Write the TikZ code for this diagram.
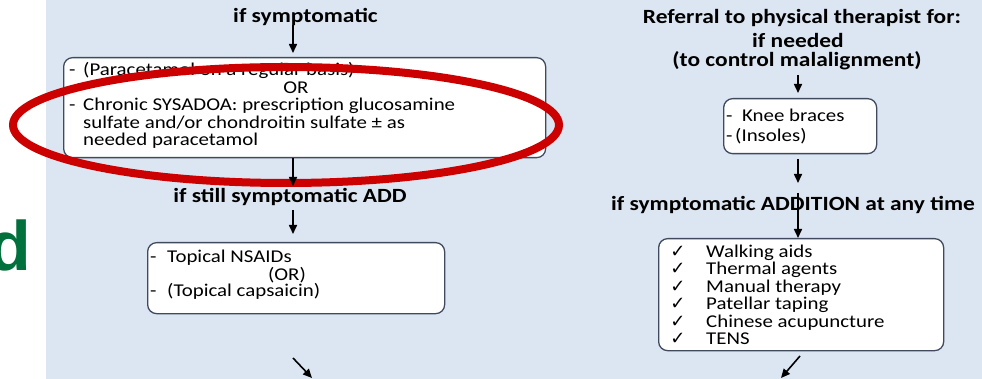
\documentclass[tikz,border=0pt]{standalone}
\usepackage{fontspec}
\setmainfont{Carlito}[FakeStretch=1.16]
\newfontfamily\checkfont{DejaVu Sans}
\newfontfamily\greenfont{Liberation Sans}
\usetikzlibrary{arrows.meta}
\definecolor{bgblue}{RGB}{220,230,242}
\definecolor{boxline}{RGB}{64,74,94}
\definecolor{ovalred}{RGB}{204,0,0}
\definecolor{dgreen}{RGB}{0,112,60}
\tikzset{
 box/.style={draw=boxline, line width=1.3pt, fill=white, rounded corners=9pt, inner sep=0pt, anchor=north west},
 txt/.style={anchor=base west, inner sep=0pt, font=\fontsize{18}{18}\selectfont},
 ctxt/.style={anchor=base, inner sep=0pt, font=\fontsize{18}{18}\selectfont},
 chk/.style={anchor=base, inner sep=0pt, font=\checkfont\fontsize{18}{18}\selectfont},
 lbl/.style={anchor=base, inner sep=0pt, font=\fontsize{20.2}{21}\selectfont\bfseries},
 arr/.style={line width=1.6pt, -{Triangle[width=8pt,length=9pt]}},
}
\begin{document}
\begin{tikzpicture}[x=1pt,y=-1pt]
\useasboundingbox (0,0) rectangle (982,379);
\fill[white] (0,0) rectangle (982,379);
\fill[bgblue] (46,0) rectangle (982,379);
\node[anchor=base west, inner sep=0pt, text=dgreen, font=\greenfont\bfseries\fontsize{70}{70}\selectfont] (gd) at (-11.5,270) {d};

% left column
\node[lbl] (l1) at (305.5,23) {if symptomatic};
\node[box, minimum width=482pt, minimum height=100pt] (b1) at (63,57) {};
\node[txt] (t11) at (69,76) {\makebox[14pt][l]{-}(Paracetamol on a regular basis)};
\node[ctxt] (t12) at (296,94) {OR};
\node[txt] (t13) at (69,111) {\makebox[14pt][l]{-}Chronic SYSADOA: prescription glucosamine};
\node[txt] (t14) at (83,129) {sulfate and/or chondroitin sulfate ± as};
\node[txt] (t15) at (83,146) {needed paracetamol};
\node[lbl] (l2) at (290,203) {if still symptomatic ADD};
\node[box, minimum width=297pt, minimum height=71pt] (b2) at (147,242) {};
\node[txt] (t21) at (150,263) {\makebox[17pt][l]{-}Topical NSAIDs};
\node[ctxt] (t22) at (287,280) {(OR)};
\node[txt] (t23) at (150,297) {\makebox[17pt][l]{-}(Topical capsaicin)};

% right column
\node[lbl] (r1) at (802,24) {Referral to physical therapist for:};
\node[lbl] (r2) at (798,48) {if needed};
\node[lbl] (r3) at (797,67) {(to control malalignment)};
\node[box, minimum width=153pt, minimum height=55pt] (b3) at (723,98) {};
\node[txt] (t31) at (726,122) {\makebox[16pt][l]{-}Knee braces};
\node[txt] (t32) at (726,142) {\makebox[9pt][l]{-}(Insoles)};
\node[lbl] (r4) at (793,211) {if symptomatic ADDITION at any time};
\node[box, minimum width=285pt, minimum height=112pt] (b4) at (658,238) {};
\foreach \y/\t [count=\i] in {258/Walking aids, 275/Thermal agents, 292/Manual therapy, 309/Patellar taping, 327/Chinese acupuncture, 344/TENS} {
  \node[chk] (c\i) at (678,\y) {✓};
  \node[txt] (w\i) at (706,\y) {\t};
}

% red oval
\draw[ovalred, line width=8pt] (286,125) ellipse [x radius=273pt, y radius=58pt];

% arrows
\coordinate (a1s) at (293,25);
\coordinate (a2e) at (293,186);
\coordinate (a3s) at (293,210);
\coordinate (ra1s) at (798,75);
\coordinate (ra2e) at (798,183);
\coordinate (ra3s) at (798,193);
\coordinate (dl1) at (293,358);
\coordinate (dl2) at (312,378);
\coordinate (dr1) at (800,356);
\coordinate (dr2) at (781,378);
\draw[arr, shorten >=4pt] (a1s) -- (a1s |- b1.north);
\draw[arr] (a2e |- b1.south) -- (a2e);
\draw[arr, shorten >=8pt] (a3s) -- (a3s |- b2.north);
\draw[arr, shorten >=5pt] (ra1s) -- (ra1s |- b3.north);
\draw[arr, shorten <=5pt] (ra2e |- b3.south) -- (ra2e);
\draw[arr] (ra3s) -- (ra3s |- b4.north);
\draw[arr] (dl1) -- (dl2);
\draw[arr] (dr1) -- (dr2);
\end{tikzpicture}
\end{document}
